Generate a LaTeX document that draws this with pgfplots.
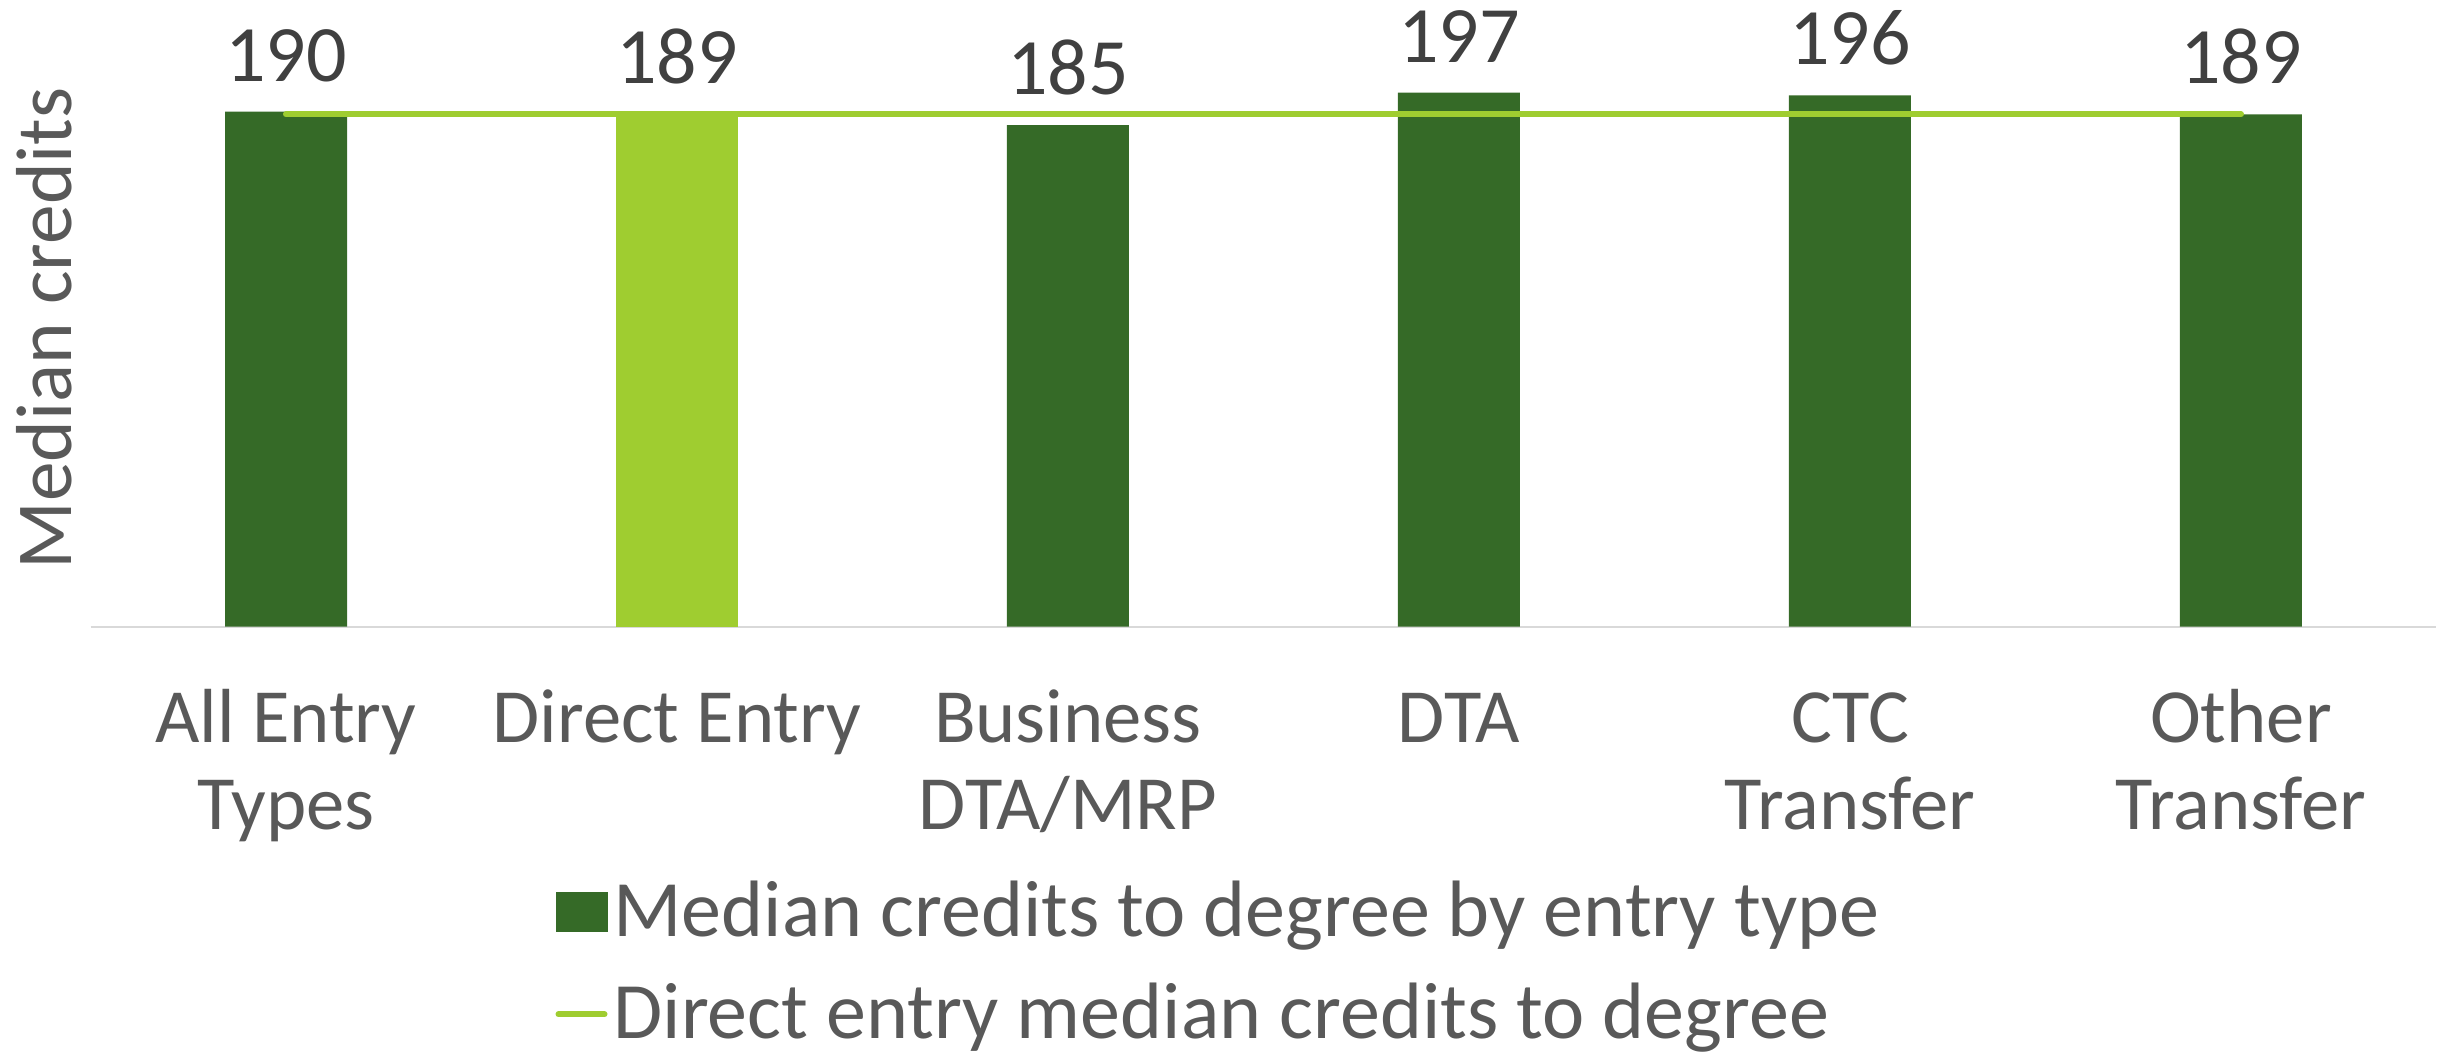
\documentclass[border=0pt]{standalone}
\usepackage{pgfplots}
\pgfplotsset{compat=1.18}
\usepackage{fontspec}
\setmainfont{Carlito}
\definecolor{dkgreen}{HTML}{356A27}
\definecolor{ltgreen}{HTML}{9FCD30}
\definecolor{txtgray}{HTML}{595959}
\definecolor{lblgray}{HTML}{404040}
\definecolor{axgray}{HTML}{D9D9D9}
\begin{document}
\begin{tikzpicture}
\begin{axis}[
  at={(0,0)}, anchor=south west,
  scale only axis,
  width=703.8pt, height=178.86pt,
  xmin=-0.5, xmax=5.5, ymin=0, ymax=220,
  axis x line=bottom, axis y line=none,
  x axis line style={-, draw=axgray, line width=0.6pt},
  xtick={0,...,5},
  xticklabels={{\strut All Entry\\Types},{\strut Direct Entry},{\strut Business\\DTA/MRP},{\strut DTA},{\strut CTC\\Transfer},{\strut Other\\Transfer}},
  xticklabel style={anchor=north, inner sep=0pt, align=center, font=\fontsize{23}{26.1}\selectfont, text=txtgray, yshift=-16.4pt},
  major tick length=0pt,
  ytick=\empty,
  clip=false,
  /pgf/number format/assume math mode=true,
  every node near coord/.append style={anchor=base, yshift=9.15pt, font=\fontsize{24}{28}\selectfont, text=lblgray, inner sep=0pt},
  legend style={at={(0,0)}, anchor=north west, xshift=139.5pt, yshift=-74.5pt, draw=none, fill=none, inner sep=0pt, outer sep=0pt, column sep=1.8pt, row sep=8.1pt, font=\fontsize{24}{27}\selectfont, text=txtgray, nodes={inner sep=0pt, text height=18.5pt, text depth=4pt}},
  legend cell align=left,
]
\addplot[ybar, bar width=36.6pt, bar shift=0pt, fill=dkgreen, draw=none, nodes near coords,
  legend image code/.code={\fill[dkgreen] (0pt,-6pt) rectangle (15.6pt,6pt);}]
  coordinates {(0,190) (2,185) (3,197) (4,196) (5,189)};
\addlegendentry{Median credits to degree by entry type}
\addplot[ybar, bar width=36.6pt, bar shift=0pt, fill=ltgreen, draw=none, nodes near coords, forget plot]
  coordinates {(1,189)};
\addplot[ltgreen, line width=1.8pt, line cap=round, mark=none,
  legend image code/.code={\draw[ltgreen, line width=1.8pt, line cap=round] (0.9pt,0pt) -- (14.7pt,0pt);}]
  coordinates {(0,189) (1,189) (2,189) (3,189) (4,189) (5,189)};
\addlegendentry{Direct entry median credits to degree}
\node[rotate=90, font=\fontsize{23.8}{27}\selectfont, text=txtgray] at ([xshift=-13.95pt]rel axis cs:0,0.5) {Median credits};
\end{axis}
\pgfresetboundingbox
\path[use as bounding box] (-27.15pt,-127.95pt) rectangle (707.25pt,187.95pt);
\end{tikzpicture}
\end{document}
